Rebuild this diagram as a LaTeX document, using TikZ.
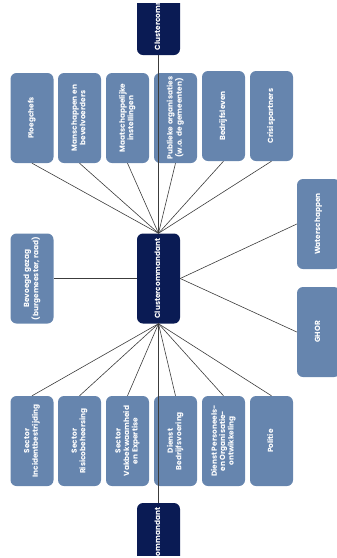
\documentclass[tikz,border=0pt]{standalone}
\usepackage{fontspec}
\setmainfont{Poppins}
\definecolor{navy}{RGB}{10,27,84}
\definecolor{steel}{RGB}{102,133,174}
\definecolor{wire}{RGB}{60,60,60}
\newcommand{\vlabel}[1]{\rotatebox{90}{\begin{tabular}{@{}c@{}}#1\end{tabular}}}
\tikzset{
  unit/.style={fill=steel, rounded corners=6pt, minimum width=43pt, minimum height=90pt,
    inner sep=0pt, text=white, font=\bfseries\fontsize{7.4}{8.4}\selectfont},
  lead/.style={unit, fill=navy},
  link/.style={draw=wire, line width=0.6pt}
}
\begin{document}
\begin{tikzpicture}[x=1pt,y=-1pt]
  \useasboundingbox (0,0) rectangle (337,558);
  \clip (0,3) rectangle (337,555);
  % commandanten
  \node[lead] (top) at (158.5,10) {\vlabel{Clustercommandant}};
  \node[lead] (hub) at (158.5,278.5) {\vlabel{Clustercommandant}};
  \node[lead] (bot) at (158.5,548) {\vlabel{Clustercommandant}};
  % bovenste rij
  \foreach \n/\x/\y/\t in {ploeg/32/118/Ploegchefs,
      mans/79.5/118/{Manschappen en\\bevelvoerders},
      maat/127.5/118/{Maatschappelijke\\instellingen},
      publ/175.5/118/{Publieke organisaties\\(w.o. de gemeenten)},
      bedr/223.5/116/Bedrijfsleven,
      cris/271.5/116/Crisispartners}
    \node[unit] (\n) at (\x,\y) {\vlabel{\t}};
  % onderste rij
  \foreach \n/\x/\t in {sinc/32/{Sector\\Incidentbestrijding},
      sris/79.5/{Sector\\Risicobeheersing},
      svak/127.5/{Sector\\Vakbekwaamheid\\en Expertise},
      dbed/175.5/{Dienst\\Bedrijfsvoering},
      dpo/223.5/{Dienst Personeels-\\en Organisatie-\\ontwikkeling},
      pol/271.5/Politie}
    \node[unit] (\n) at (\x,441) {\vlabel{\t}};
  % zijkanten
  \node[unit] (gezag) at (32,278.5) {\vlabel{Bevoegd gezag\\(burgemeester, raad)}};
  \node[unit] (water) at (318.5,224) {\vlabel{Waterschappen}};
  \node[unit] (ghor) at (318.5,332) {\vlabel{GHOR}};
  % verbindingen
  \draw[link] (top.south) -- (hub.north);
  \draw[link] (hub.south) -- (bot.north);
  \foreach \n in {ploeg,mans,maat,publ,bedr,cris}
    \draw[link] (hub.north) -- (\n.south);
  \foreach \n in {sinc,sris,svak,dbed,dpo,pol}
    \draw[link] (hub.south) -- (\n.north);
  \draw[link] (gezag.east) -- (hub.west);
  \draw[link] (hub.east) -- (water.west);
  \draw[link] (hub.east) -- (ghor.west);
\end{tikzpicture}
\end{document}
